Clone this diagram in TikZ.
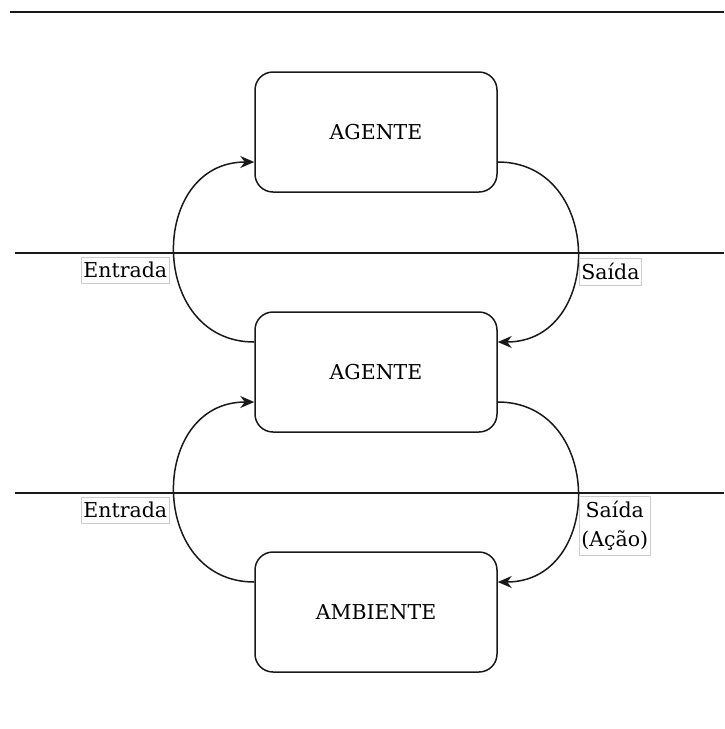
\documentclass[tikz,border=0pt]{standalone}
\usepackage{fontspec}
\setmainfont{DejaVu Serif}
\usetikzlibrary{arrows.meta}
\begin{document}
\begin{tikzpicture}[x=1pt,y=-1pt,
  sep/.style={line width=1.6pt,draw=black!90},
  boxst/.style={draw=black!90,line width=1.5pt,rounded corners=18pt,minimum width=242pt,minimum height=120pt,inner sep=0pt,font=\fontsize{20.5}{24}\selectfont},
  lbl/.style={draw=black!20,line width=0.7pt,inner xsep=2pt,inner ysep=5pt,anchor=north west,font=\fontsize{20.5}{29}\selectfont,align=center,fill=white},
  conn/.style={line width=1.5pt,draw=black!90,-{Stealth[length=14pt,width=12pt]}}]
\useasboundingbox (0,0) rectangle (724,729);
\coordinate (l0a) at (10,12); \coordinate (l0b) at (724,12);
\coordinate (l1a) at (15,253); \coordinate (l1b) at (724,253);
\coordinate (l2a) at (15,493); \coordinate (l2b) at (724,493);
\draw[sep] (l0a) -- (l0b);
\draw[sep] (l1a) -- (l1b);
\draw[sep] (l2a) -- (l2b);
\node[boxst] (top) at (376,132) {AGENTE};
\node[boxst] (mid) at (376,372) {AGENTE};
\node[boxst] (bot) at (376,612) {AMBIENTE};
% curves
\draw[conn] (mid.west |- 0,342) .. controls (148,342) and (148,162) .. (top.west |- 0,162);
\draw[conn] (top.east |- 0,162) .. controls (604,162) and (604,342) .. (mid.east |- 0,342);
\draw[conn] (bot.west |- 0,582) .. controls (148,582) and (148,402) .. (mid.west |- 0,402);
\draw[conn] (mid.east |- 0,402) .. controls (604,402) and (604,582) .. (bot.east |- 0,582);
% labels
\node[lbl] (e1) at (81,257) {Entrada};
\node[lbl] (s1) at (579,258) {Saída};
\node[lbl] (e2) at (81,497) {Entrada};
\node[lbl] (s2) at (579,496) {Saída\\(Ação)};
\end{tikzpicture}
\end{document}
